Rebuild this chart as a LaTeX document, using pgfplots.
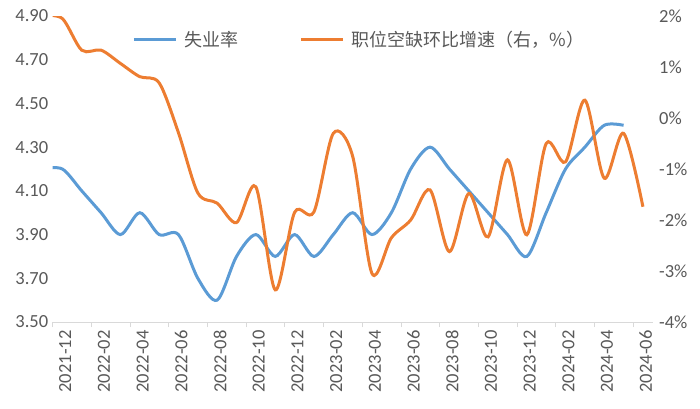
\documentclass[border=0pt]{standalone}
\usepackage{pgfplots}
\pgfplotsset{compat=1.18}
\usepackage{fontspec}
\setmainfont{Carlito}
\newfontfamily\cjk{Noto Sans CJK SC}
\definecolor{blueline}{HTML}{5B9BD5}
\definecolor{orangeline}{HTML}{ED7D31}
\definecolor{txtgray}{HTML}{595959}
\definecolor{axisgray}{HTML}{D9D9D9}
\begin{document}
\begin{tikzpicture}
\useasboundingbox (0bp,0bp) rectangle (700bp,-409bp);
\pgfplotsset{
  common/.style={
    at={(52.7bp,-322bp)}, anchor=south west,
    width=599.9bp, height=306bp, scale only axis,
    xmin=0, xmax=31,
    clip=true,
    /pgf/number format/assume math mode=true,
    tick label style={font=\fontsize{18.5bp}{22bp}\selectfont, text=txtgray},
  }
}
\begin{axis}[common,
  ymin=3.5, ymax=4.9,
  axis x line*=bottom, axis y line*=left,
  x axis line style={draw=axisgray, line width=1bp, -},
  y axis line style={draw=none},
  xtick={0,2,...,30},
  xticklabels={2021-12,2022-02,2022-04,2022-06,2022-08,2022-10,2022-12,2023-02,2023-04,2023-06,2023-08,2023-10,2023-12,2024-02,2024-04,2024-06},
  xticklabel style={xshift=12.5bp, rotate=90, anchor=east},
  x tick style={draw=axisgray, line width=1bp},
  tick align=outside,
  major tick length=5bp,
  ytick={3.5,3.7,3.9,4.1,4.3,4.5,4.7,4.9},
  y tick style={draw=none},
  yticklabel style={xshift=4bp, /pgf/number format/.cd, fixed, fixed zerofill, precision=2},
]
\addplot[blueline, line width=3bp, smooth, tension=0.5, no markers] coordinates {
(-0.5,4.20) (0.5,4.20) (1.5,4.10) (2.5,4.00) (3.5,3.90) (4.5,4.00) (5.5,3.90) (6.5,3.90)
(7.5,3.70) (8.5,3.60) (9.5,3.80) (10.5,3.90) (11.5,3.80) (12.5,3.90) (13.5,3.80) (14.5,3.90)
(15.5,4.00) (16.5,3.90) (17.5,4.00) (18.5,4.20) (19.5,4.30) (20.5,4.20) (21.5,4.10) (22.5,4.00)
(23.5,3.90) (24.5,3.80) (25.5,4.00) (26.5,4.20) (27.5,4.30) (28.5,4.40) (29.5,4.40)
};
\end{axis}
\begin{axis}[common,
  ymin=-4, ymax=2,
  axis x line=none,
  axis y line*=right,
  y axis line style={draw=none},
  ytick={-4,-3,-2,-1,0,1,2},
  y tick style={draw=none},
  yticklabel={\pgfmathparse{int(\tick)}\pgfmathresult\%},
  yticklabel style={anchor=west, xshift=3bp},
  legend columns=2,
  legend style={draw=none, fill=none, at={(0.511,0.9216)}, anchor=center,
    font=\cjk\fontsize{18bp}{22bp}\selectfont, text=txtgray,
    /tikz/every odd column/.append style={column sep=5bp},
    /tikz/every even column/.append style={column sep=59bp}},
  legend image code/.code={\draw[#1] (0bp,0bp) -- (42bp,0bp);},
]
\addlegendimage{blueline, line width=3bp}
\addlegendentry{失业率}
\addplot[orangeline, line width=3bp, smooth, tension=0.5, no markers] coordinates {
(-0.5,2.00) (0.5,1.95) (1.5,1.33) (2.5,1.33) (3.5,1.07) (4.5,0.81) (5.5,0.69) (6.5,-0.29)
(7.5,-1.47) (8.5,-1.67) (9.5,-2.05) (10.5,-1.35) (11.5,-3.37) (12.5,-1.85) (13.5,-1.84) (14.5,-0.30)
(15.5,-0.75) (16.5,-3.05) (17.5,-2.35) (18.5,-2.00) (19.5,-1.41) (20.5,-2.62) (21.5,-1.48) (22.5,-2.33)
(23.5,-0.82) (24.5,-2.29) (25.5,-0.50) (26.5,-0.86) (27.5,0.35) (28.5,-1.18) (29.5,-0.30) (30.5,-1.74)
};
\addlegendentry{职位空缺环比增速（右，\%）}
\end{axis}
\end{tikzpicture}
\end{document}
